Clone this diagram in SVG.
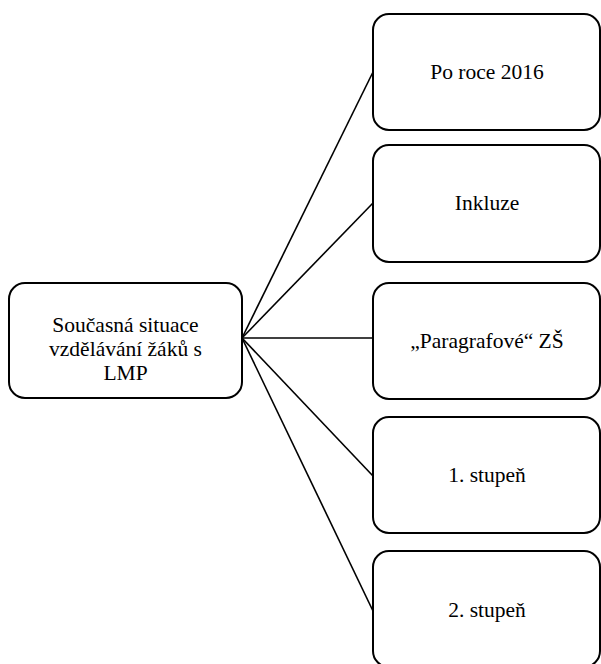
<svg xmlns="http://www.w3.org/2000/svg" width="601" height="664" viewBox="0 0 601 664">
<style>
.box{fill:#fff;stroke:#000;stroke-width:2}
.t{font-family:"Liberation Serif","Times New Roman",serif;font-size:21.5px;fill:#000;text-anchor:middle}
.c line{stroke:#000;stroke-width:1.6}
</style>
<rect width="601" height="664" fill="#fff"/>
<g id="connectors" class="c">
<line x1="242" y1="338" x2="373" y2="72"/>
<line x1="242" y1="338" x2="373" y2="203"/>
<line x1="242" y1="338" x2="373" y2="338"/>
<line x1="242" y1="338" x2="373" y2="476"/>
<line x1="242" y1="338" x2="373" y2="611"/>
</g>
<g id="root">
<rect class="box" x="9" y="283" width="233" height="115" rx="16"/>
<text class="t" x="125.5" y="332">Současná situace</text>
<text class="t" x="125.5" y="356">vzdělávání žáků s</text>
<text class="t" x="125.5" y="380">LMP</text>
</g>
<g id="n1">
<rect class="box" x="373" y="14" width="227" height="116" rx="16"/>
<text class="t" x="487" y="79">Po roce 2016</text>
</g>
<g id="n2">
<rect class="box" x="373" y="145" width="227" height="117" rx="16"/>
<text class="t" x="487" y="210">Inkluze</text>
</g>
<g id="n3">
<rect class="box" x="373" y="283" width="227" height="116" rx="16"/>
<text class="t" x="487" y="348">„Paragrafové“ ZŠ</text>
</g>
<g id="n4">
<rect class="box" x="373" y="417" width="227" height="116" rx="16"/>
<text class="t" x="487" y="482">1. stupeň</text>
</g>
<g id="n5">
<rect class="box" x="373" y="551" width="227" height="116" rx="16"/>
<text class="t" x="487" y="617">2. stupeň</text>
</g>
</svg>
